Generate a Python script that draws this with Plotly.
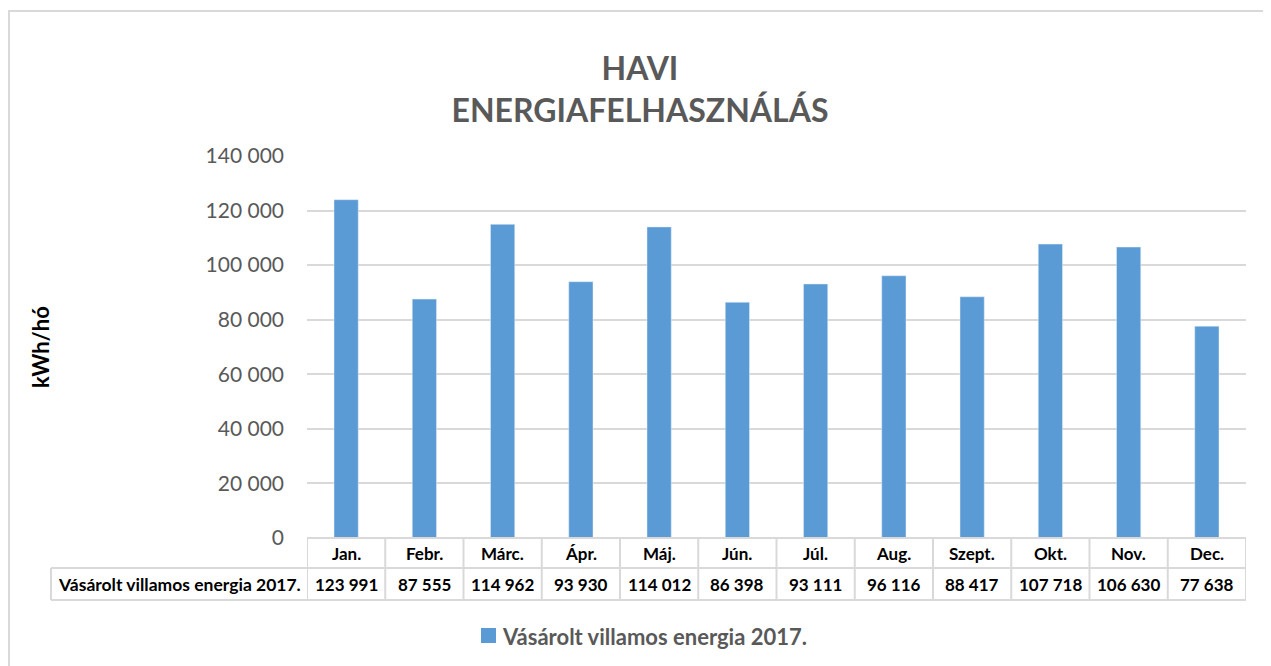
import plotly.graph_objects as go

months = ["Jan.", "Febr.", "Márc.", "Ápr.", "Máj.", "Jún.", "Júl.", "Aug.", "Szept.", "Okt.", "Nov.", "Dec."]
values = [123991, 87555, 114962, 93930, 114012, 86398, 93111, 96116, 88417, 107718, 106630, 77638]
series_name = "Vásárolt villamos energia 2017."
y_ticks = [0, 20000, 40000, 60000, 80000, 100000, 120000, 140000]

OFF = 8  # page body margin
W, H = 1271 - OFF, 666 - OFF
# target page-pixel positions of plot area
PX0, PX1, PY0, PY1 = 307, 1246, 156, 538
L, T = PX0 - OFF, PY0 - OFF
R, B = W - (PX1 - OFF), H - (PY1 - OFF)
PW, PH = PX1 - PX0, PY1 - PY0

def px_x(p):
    return (p - PX0) / PW

def px_y(p):
    return (PY1 - p) / PH

FONT = "Lato, 'Open Sans', sans-serif"
GRID = "#d9d9d9"
BAR = "#5b9bd5"

fig = go.Figure()
fig.add_trace(go.Bar(x=months, y=values, name=series_name, marker_color=BAR,
                     width=0.31, showlegend=False))

shapes = []
annotations = []

# outer border
shapes.append(dict(type="rect", xref="paper", yref="paper",
                   x0=px_x(OFF + 1), x1=px_x(1290), y0=px_y(690), y1=px_y(11),
                   line=dict(color=GRID, width=2), fillcolor="rgba(0,0,0,0)", layer="below"))

# data table
top, mid, bot = px_y(538), px_y(568), px_y(600)
left_tab = px_x(51)
line = dict(color=GRID, width=2)
shapes.append(dict(type="line", xref="paper", yref="paper", x0=0, x1=1, y0=top, y1=top, line=line))
shapes.append(dict(type="line", xref="paper", yref="paper", x0=left_tab, x1=1, y0=mid, y1=mid, line=line))
shapes.append(dict(type="line", xref="paper", yref="paper", x0=left_tab, x1=1, y0=bot, y1=bot, line=line))
shapes.append(dict(type="line", xref="paper", yref="paper", x0=left_tab, x1=left_tab, y0=bot, y1=mid, line=line))
for i in range(len(months) + 1):
    shapes.append(dict(type="line", xref="x", yref="paper", x0=i - 0.5, x1=i - 0.5,
                       y0=bot, y1=top, line=line))

for i, (m, v) in enumerate(zip(months, values)):
    annotations.append(dict(x=m, xref="x", y=(top + mid) / 2, yref="paper", text=f"<b>{m}</b>",
                            showarrow=False, font=dict(family=FONT, size=17, color="#000000"),
                            xanchor="center", yanchor="middle"))
    annotations.append(dict(x=m, xref="x", y=(mid + bot) / 2, yref="paper",
                            text="<b>" + f"{v:,}".replace(",", " ") + "</b>",
                            showarrow=False, font=dict(family=FONT, size=17, color="#000000"),
                            xanchor="center", yanchor="middle"))
annotations.append(dict(x=(left_tab + 0) / 2, xref="paper", y=(mid + bot) / 2, yref="paper",
                        text=f"<b>{series_name}</b>", showarrow=False,
                        font=dict(family=FONT, size=17.5, color="#000000"),
                        xanchor="center", yanchor="middle"))

# y-axis title
annotations.append(dict(x=px_x(40), xref="paper", y=px_y(347), yref="paper", text="<b>kWh/hó</b>",
                        textangle=-90, showarrow=False,
                        font=dict(family=FONT, size=22, color="#000000"),
                        xanchor="center", yanchor="middle"))

# legend (symbol + label)
shapes.append(dict(type="rect", xref="paper", yref="paper",
                   x0=px_x(481), x1=px_x(496), y0=px_y(643), y1=px_y(628),
                   line=dict(width=0), fillcolor=BAR))
annotations.append(dict(x=px_x(500), xref="paper", y=px_y(636), yref="paper",
                        text=f"<b>{series_name}</b>", showarrow=False,
                        font=dict(family=FONT, size=22, color="#595959"),
                        xanchor="left", yanchor="middle"))

fig.update_layout(
    width=W, height=H,
    margin=dict(l=L, r=R, t=T, b=B, autoexpand=False),
    paper_bgcolor="white", plot_bgcolor="white",
    separators=", ",
    showlegend=False,
    title=dict(text="<b>HAVI<br>ENERGIAFELHASZNÁLÁS</b>", xref="container", x=(640 - OFF) / W,
               xanchor="center", yref="container", y=1 - (80 - OFF) / H, yanchor="middle",
               font=dict(family=FONT, size=32, color="#595959")),
    xaxis=dict(showticklabels=False, showgrid=False, zeroline=False, showline=False,
               range=[-0.5, len(months) - 0.5]),
    yaxis=dict(range=[0, 140000], tickvals=y_ticks, tickformat=",d", showgrid=True,
               gridcolor=GRID, gridwidth=1.5, zeroline=False, showline=False,
               tickfont=dict(family=FONT, size=21, color="#595959"), ticks="", ticklabelstandoff=22),
    shapes=shapes,
    annotations=annotations,
)

fig.write_html("out.html")
